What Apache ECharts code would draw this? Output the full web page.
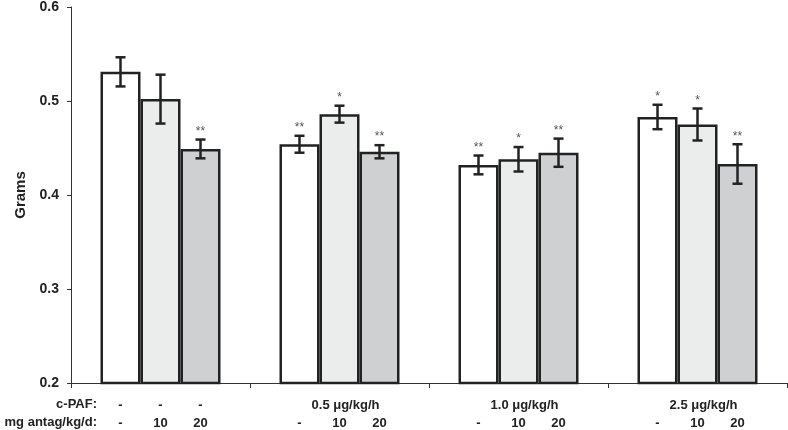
<!DOCTYPE html>
<html>
<head>
<meta charset="utf-8">
<script src="https://cdn.jsdelivr.net/npm/echarts@6/dist/echarts.min.js"></script>
<style>html,body{margin:0;padding:0;background:#fff}#c{width:788px;height:430px}</style>
</head>
<body>
<div id="c"></div>
<script>
var categories = ['-', '0.5 μg/kg/h', '1.0 μg/kg/h', '2.5 μg/kg/h'];
var antagLabels = ['-', '10', '20'];
var yTicks = [0.2, 0.3, 0.4, 0.5, 0.6];
var means0 = [0.531, 0.454, 0.432, 0.483];
var means10 = [0.502, 0.486, 0.438, 0.475];
var means20 = [0.449, 0.446, 0.445, 0.433];
var err0 = [0.0155, 0.009, 0.010, 0.013];
var err10 = [0.026, 0.009, 0.013, 0.017];
var err20 = [0.010, 0.007, 0.015, 0.021];
var stars0 = ['', '**', '**', '*'];
var stars10 = ['', '*', '*', '*'];
var stars20 = ['**', '**', '**', '**'];

var means = [means0, means10, means20];
var errs = [err0, err10, err20];
var stars = [stars0, stars10, stars20];
var fills = ['#ffffff', '#ebedec', '#cfd0d2'];
var BW = 40;
var font = '"Liberation Sans", Arial, sans-serif';

var chart = echarts.init(document.getElementById('c'));
var series = [];
means.forEach(function (m, k) {
  series.push({
    type: 'bar',
    barWidth: BW,
    barGap: '0%',
    data: m,
    z: 2,
    itemStyle: { color: fills[k], borderColor: '#222', borderWidth: 2.5 },
    label: {
      show: true,
      position: 'bottom',
      distance: 12,
      fontFamily: font,
      fontWeight: 'bold',
      fontSize: 13,
      color: '#222',
      lineHeight: 18,
      rich: {
        d: { fontFamily: font, fontWeight: 'bold', fontSize: 13, color: '#222', lineHeight: 18, padding: [0, 0, 0, 12] }
      },
      formatter: function (p) {
        var cat = categories[p.dataIndex];
        var row1 = cat === '-' ? '-' : (k === 1 ? '{d|' + cat + '}' : ' ');
        return row1 + '\n' + antagLabels[k];
      }
    },
    emphasis: { disabled: true }
  });
});
means.forEach(function (m, k) {
  series.push({
    type: 'custom',
    z: 5,
    data: m.map(function (v, i) { return [i, v - errs[k][i], v + errs[k][i]]; }),
    renderItem: function (params, api) {
      var i = api.value(0);
      var lo = api.coord([i, api.value(1)]);
      var hi = api.coord([i, api.value(2)]);
      var x = lo[0] + (k - 1) * BW;
      var cap = 5;
      var st = { stroke: '#222', lineWidth: 2.5 };
      var children = [
        { type: 'line', shape: { x1: x, y1: lo[1], x2: x, y2: hi[1] }, style: st },
        { type: 'line', shape: { x1: x - cap, y1: lo[1], x2: x + cap, y2: lo[1] }, style: st },
        { type: 'line', shape: { x1: x - cap, y1: hi[1], x2: x + cap, y2: hi[1] }, style: st }
      ];
      var s = stars[k][params.dataIndex];
      if (s) {
        children.push({ type: 'text', style: { text: s, x: x, y: hi[1] - 2, align: 'center', verticalAlign: 'bottom', fontSize: 12, fontFamily: font, fill: '#555' } });
      }
      return { type: 'group', children: children };
    }
  });
});

chart.setOption({
  animation: false,
  grid: { left: 71, right: 1, top: 6, bottom: 47 },
  xAxis: {
    type: 'category',
    data: categories,
    axisLine: { lineStyle: { color: '#333', width: 1 } },
    axisTick: { show: true, alignWithLabel: false, length: 5, lineStyle: { color: '#333' } },
    axisLabel: { show: false }
  },
  yAxis: {
    type: 'value',
    min: yTicks[0],
    max: yTicks[yTicks.length - 1],
    interval: 0.1,
    name: 'Grams',
    nameLocation: 'middle',
    nameGap: 43,
    nameTextStyle: { fontFamily: font, fontWeight: 'bold', fontSize: 15, color: '#222', padding: [0, 0, 0, 0] },
    axisLine: { show: true, lineStyle: { color: '#333', width: 1 } },
    axisTick: { show: true, length: 4, lineStyle: { color: '#333' } },
    splitLine: { show: false },
    axisLabel: { margin: 12, fontFamily: font, fontWeight: 'bold', fontSize: 14, color: '#222', formatter: function (v) { return v.toFixed(1); } }
  },
  graphic: [
    { type: 'text', style: { text: 'c-PAF:', x: 97, y: 404, align: 'right', verticalAlign: 'middle', fontFamily: font, fontWeight: 'bold', fontSize: 13, fill: '#222' } },
    { type: 'text', style: { text: 'mg antag/kg/d:', x: 97, y: 422, align: 'right', verticalAlign: 'middle', fontFamily: font, fontWeight: 'bold', fontSize: 13, fill: '#222' } }
  ],
  series: series
});
</script>
</body>
</html>
